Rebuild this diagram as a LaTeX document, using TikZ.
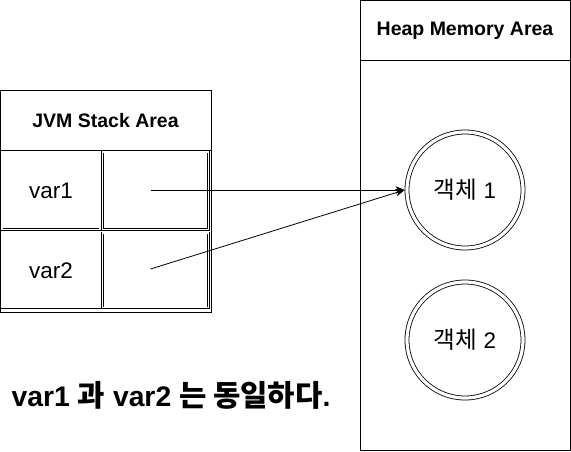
\documentclass[tikz,border=0pt]{standalone}
\usepackage{fontspec}
\setmainfont{Liberation Sans}
\newfontfamily\kr{Noto Sans CJK KR}[Scale=1.05]
\usetikzlibrary{arrows.meta}
\begin{document}
\begin{tikzpicture}[x=1pt,y=-1pt,line width=0.8pt,
  areabox/.style={draw,inner sep=0pt,outer sep=0pt,anchor=north west},
  title/.style={font=\fontsize{19.5}{21}\selectfont\bfseries},
  cell/.style={draw,double,double distance=1.2pt,line width=0.6pt,inner sep=0pt,outer sep=0pt,
    font=\fontsize{22.5}{24}\selectfont},
  obj/.style={circle,draw,double,double distance=3.2pt,line width=0.8pt,minimum size=116pt,
    inner sep=0pt,outer sep=2.4pt,font=\fontsize{22.5}{24}\selectfont},
  arr/.style={-{Stealth[length=9pt,width=7.5pt,inset=2.5pt]},line width=0.8pt},
  note/.style={font=\fontsize{28.3}{30}\selectfont\bfseries}]
\useasboundingbox[fill=white] (0,0) rectangle (571,451);
% stack area
\node[areabox,minimum width=210.5pt,minimum height=222pt] (stack) at (0.5,90) {};
\coordinate (s1) at (0.5,150);
\coordinate (s2) at (211,150);
\draw (s1) -- (s2);
\node[title] (stacktitle) at (105.5,121) {JVM Stack Area};
\node[cell,minimum width=98pt,minimum height=77.3pt] (c11) at (51,190.7) {var1};
\node[cell,minimum width=106pt,minimum height=77.3pt] (c12) at (155.3,190.7) {};
\node[cell,minimum width=98pt,minimum height=74.8pt] (c21) at (51,270.4) {var2};
\node[cell,minimum width=106pt,minimum height=74.8pt] (c22) at (155.3,270.4) {};
% heap area
\node[areabox,minimum width=210pt,minimum height=449.5pt] (heap) at (360,0.5) {};
\coordinate (h1) at (360,60);
\coordinate (h2) at (570,60);
\draw (h1) -- (h2);
\node[title] (heaptitle) at (465,31) {Heap Memory Area};
\node[obj] (obj1) at (465,190) {{\kr 객체} 1};
\node[obj] (obj2) at (465,340) {{\kr 객체} 2};
% references
\coordinate (p1) at (150.5,190);
\coordinate (p2) at (150.5,269);
\draw[arr] (p1) -- (obj1.west);
\draw[arr] (p2) -- (obj1.west);
% note
\node[note,anchor=west] (caption) at (8,395) {var1 {\kr 과} var2 {\kr 는 동일하다}.};
\end{tikzpicture}
\end{document}
